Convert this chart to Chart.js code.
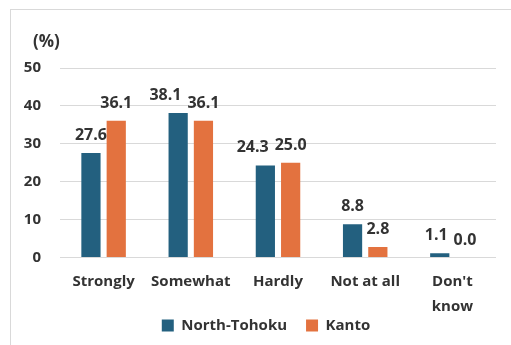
<!DOCTYPE html>
<html>
<head>
<meta charset="utf-8">
<script src="https://cdn.jsdelivr.net/npm/chart.js@4"></script>
<style>
  html, body { margin: 0; padding: 0; background: #fff; }
  #wrap { position: relative; width: 511px; height: 345px; overflow: hidden; }
  #frame { position: absolute; left: 10px; top: 9px; width: 520px; height: 360px; border: 1px solid #d9d9d9; box-sizing: border-box; }
  #wrap canvas { position: absolute; left: 0; top: 0; }
</style>
</head>
<body>
<div id="wrap">
  <div id="frame"></div>
  <canvas id="answers" width="511" height="345"></canvas>
</div>
<script>
const categories = ['Strongly', 'Somewhat', 'Hardly', 'Not at all', ["Don't", 'know']];
const northTohoku = [27.6, 38.1, 24.3, 8.8, 1.1];
const kanto = [36.1, 36.1, 25.0, 2.8, 0.0];
const yTicks = [0, 10, 20, 30, 40, 50];

const FONT = '"Open Sans", "Liberation Sans", Arial, sans-serif';
const TEXT = '#333333';

// values printed above each bar, nudged apart when two labels collide
const barValues = {
  id: 'barValues',
  afterDatasetsDraw(chart) {
    const ctx = chart.ctx;
    ctx.save();
    ctx.font = 'bold 16px ' + FONT;
    ctx.fillStyle = TEXT;
    ctx.textAlign = 'center';
    ctx.textBaseline = 'alphabetic';
    const metas = chart.data.datasets.map((d, i) => chart.getDatasetMeta(i));
    categories.forEach((c, j) => {
      const items = metas.map((m, i) => {
        const bar = m.data[j];
        const text = chart.data.datasets[i].data[j].toFixed(1);
        return { text, x: bar.x, y: bar.y - 13, w: ctx.measureText(text).width };
      });
      const a = items[0], b = items[1];
      const gap = (b.x - b.w / 2) - (a.x + a.w / 2);
      if (gap < 6 && Math.abs(a.y - b.y) < 14) {
        a.x -= (6 - gap);
      }
      items.forEach(it => ctx.fillText(it.text, it.x, it.y));
    });
    ctx.restore();
  }
};

// unit caption above the value axis
const unitCaption = {
  id: 'unitCaption',
  afterDraw(chart) {
    const ctx = chart.ctx;
    ctx.save();
    ctx.font = 'bold 17px ' + FONT;
    ctx.fillStyle = TEXT;
    ctx.textAlign = 'left';
    ctx.textBaseline = 'middle';
    ctx.fillText('(%)', 33, 42);
    ctx.restore();
  }
};

// the category axis is squeezed in afterFit; widen its clip box again so
// the second line of "Don't know" is not cut off
const labelRoom = {
  id: 'labelRoom',
  afterLayout(chart) {
    chart.scales.x.bottom = chart.height;
  }
};

Chart.defaults.font.family = FONT;
Chart.defaults.color = TEXT;

new Chart(document.getElementById('answers'), {
  type: 'bar',
  data: {
    labels: categories,
    datasets: [
      { label: 'North-Tohoku', data: northTohoku, backgroundColor: '#23607f' },
      { label: 'Kanto', data: kanto, backgroundColor: '#e3723f' }
    ]
  },
  options: {
    responsive: false,
    animation: false,
    layout: { padding: { left: 21, right: 0, top: 68, bottom: 2 } },
    datasets: { bar: { categoryPercentage: 0.58, barPercentage: 0.76 } },
    scales: {
      x: {
        grid: { display: false },
        border: { display: false },
        ticks: {
          font: { size: 15, weight: 'bold', lineHeight: 1.65 },
          maxRotation: 0, autoSkip: false, padding: 4
        },
        // let the plot reach closer to the category labels
        afterFit: axis => { axis.height -= 24; }
      },
      y: {
        min: 0,
        max: 50,
        afterBuildTicks: axis => { axis.ticks = yTicks.map(v => ({ value: v })); },
        grid: { color: '#d9d9d9', lineWidth: 1, drawTicks: false },
        border: { display: false },
        ticks: { font: { size: 15, weight: 'bold' }, padding: 19 },
        afterFit: axis => { axis.width = 39; }
      },
      // empty right-hand margin so the plot stops short of the frame edge
      margin: {
        position: 'right',
        grid: { display: false },
        border: { display: false },
        ticks: { display: false },
        afterFit: axis => { axis.width = 15; }
      }
    },
    plugins: {
      legend: {
        position: 'bottom',
        labels: { boxWidth: 12, boxHeight: 12, font: { size: 15, weight: 'bold' }, padding: 19 }
      },
      tooltip: { enabled: false }
    }
  },
  plugins: [barValues, unitCaption, labelRoom]
});
</script>
</body>
</html>
